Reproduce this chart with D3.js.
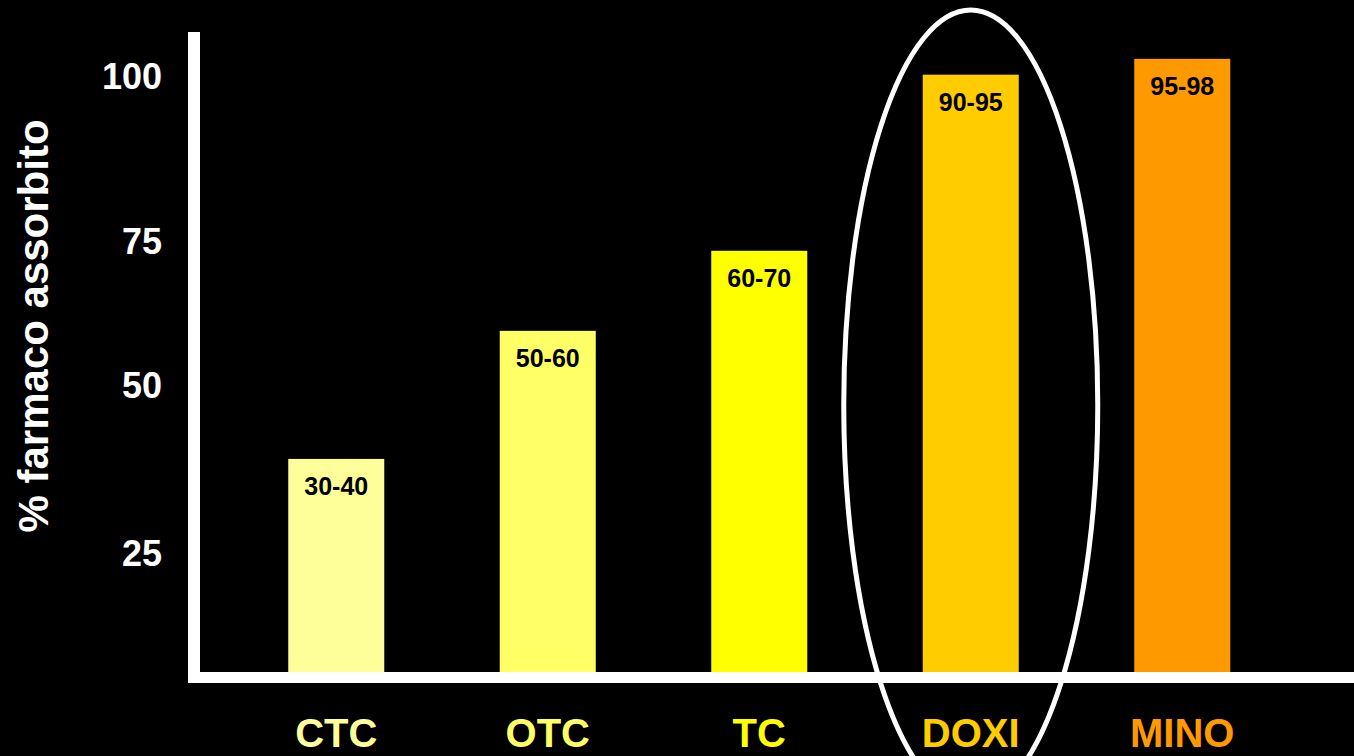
<!DOCTYPE html>
<html>
<head>
<meta charset="utf-8">
<script src="https://cdn.jsdelivr.net/npm/d3@7"></script>
<style>
  html, body { margin: 0; padding: 0; background: #000; }
  svg { display: block; }
  text { font-family: Arial, "Liberation Sans", sans-serif; font-weight: bold; }
</style>
</head>
<body>
<svg id="chart" width="1354" height="756"></svg>
<script>
// ---- data ----
const categories = ["CTC", "OTC", "TC", "DOXI", "MINO"];
const values = [39, 59.4, 73.3, 100.2, 102.6];
const rangeLabels = ["30-40", "50-60", "60-70", "90-95", "95-98"];
const colors = ["#FFFF99", "#FFFF66", "#FFFF00", "#FFCC00", "#FF9900"];
const tickValues = [25, 50, 75, 100];
const yTitle = "% farmaco assorbito";
const highlighted = "DOXI";

// ---- layout ----
const W = 1354, H = 756;
const svg = d3.select("#chart");
svg.append("rect").attr("width", W).attr("height", H).attr("fill", "#000");

const baseY = 672;
const y = d3.scaleLinear()
  .domain([0, 25, 50, 75, 100])
  .range([baseY, 553, 385, 241, 76]);

const x = d3.scaleBand()
  .domain(categories)
  .range([230.5, 1288])
  .paddingInner(0.546)
  .paddingOuter(0.273);

// bars
svg.selectAll("rect.bar")
  .data(categories)
  .enter().append("rect")
  .attr("class", "bar")
  .attr("x", d => x(d))
  .attr("width", x.bandwidth())
  .attr("y", (d, i) => y(values[i]))
  .attr("height", (d, i) => baseY - y(values[i]))
  .attr("fill", (d, i) => colors[i]);

// bar value labels
svg.selectAll("text.vlab")
  .data(categories)
  .enter().append("text")
  .attr("class", "vlab")
  .attr("x", d => x(d) + x.bandwidth() / 2)
  .attr("y", (d, i) => y(values[i]) + 36)
  .attr("text-anchor", "middle")
  .attr("font-size", 25)
  .attr("fill", "#000")
  .text((d, i) => rangeLabels[i]);

// axes lines
svg.append("rect").attr("x", 188).attr("y", 32).attr("width", 12).attr("height", 651).attr("fill", "#fff");
svg.append("rect").attr("x", 188).attr("y", baseY).attr("width", W - 188).attr("height", 11).attr("fill", "#fff");

// y tick labels
svg.selectAll("text.ytick")
  .data(tickValues)
  .enter().append("text")
  .attr("class", "ytick")
  .attr("x", 162)
  .attr("y", d => y(d))
  .attr("dy", "0.35em")
  .attr("text-anchor", "end")
  .attr("font-size", 36)
  .attr("fill", "#fff")
  .text(d => d);

// x category labels
svg.selectAll("text.xlab")
  .data(categories)
  .enter().append("text")
  .attr("class", "xlab")
  .attr("x", d => x(d) + x.bandwidth() / 2)
  .attr("y", 747)
  .attr("text-anchor", "middle")
  .attr("font-size", 40)
  .attr("fill", (d, i) => colors[i])
  .text(d => d);

// y title
svg.append("text")
  .attr("transform", "translate(48,326) rotate(-90)")
  .attr("text-anchor", "middle")
  .attr("font-size", 42)
  .attr("fill", "#fff")
  .text(yTitle);

// highlight ellipse
svg.append("ellipse")
  .attr("cx", x(highlighted) + x.bandwidth() / 2)
  .attr("cy", 405)
  .attr("rx", 127)
  .attr("ry", 395)
  .attr("fill", "none")
  .attr("stroke", "#fff")
  .attr("stroke-width", 5);
</script>
</body>
</html>
